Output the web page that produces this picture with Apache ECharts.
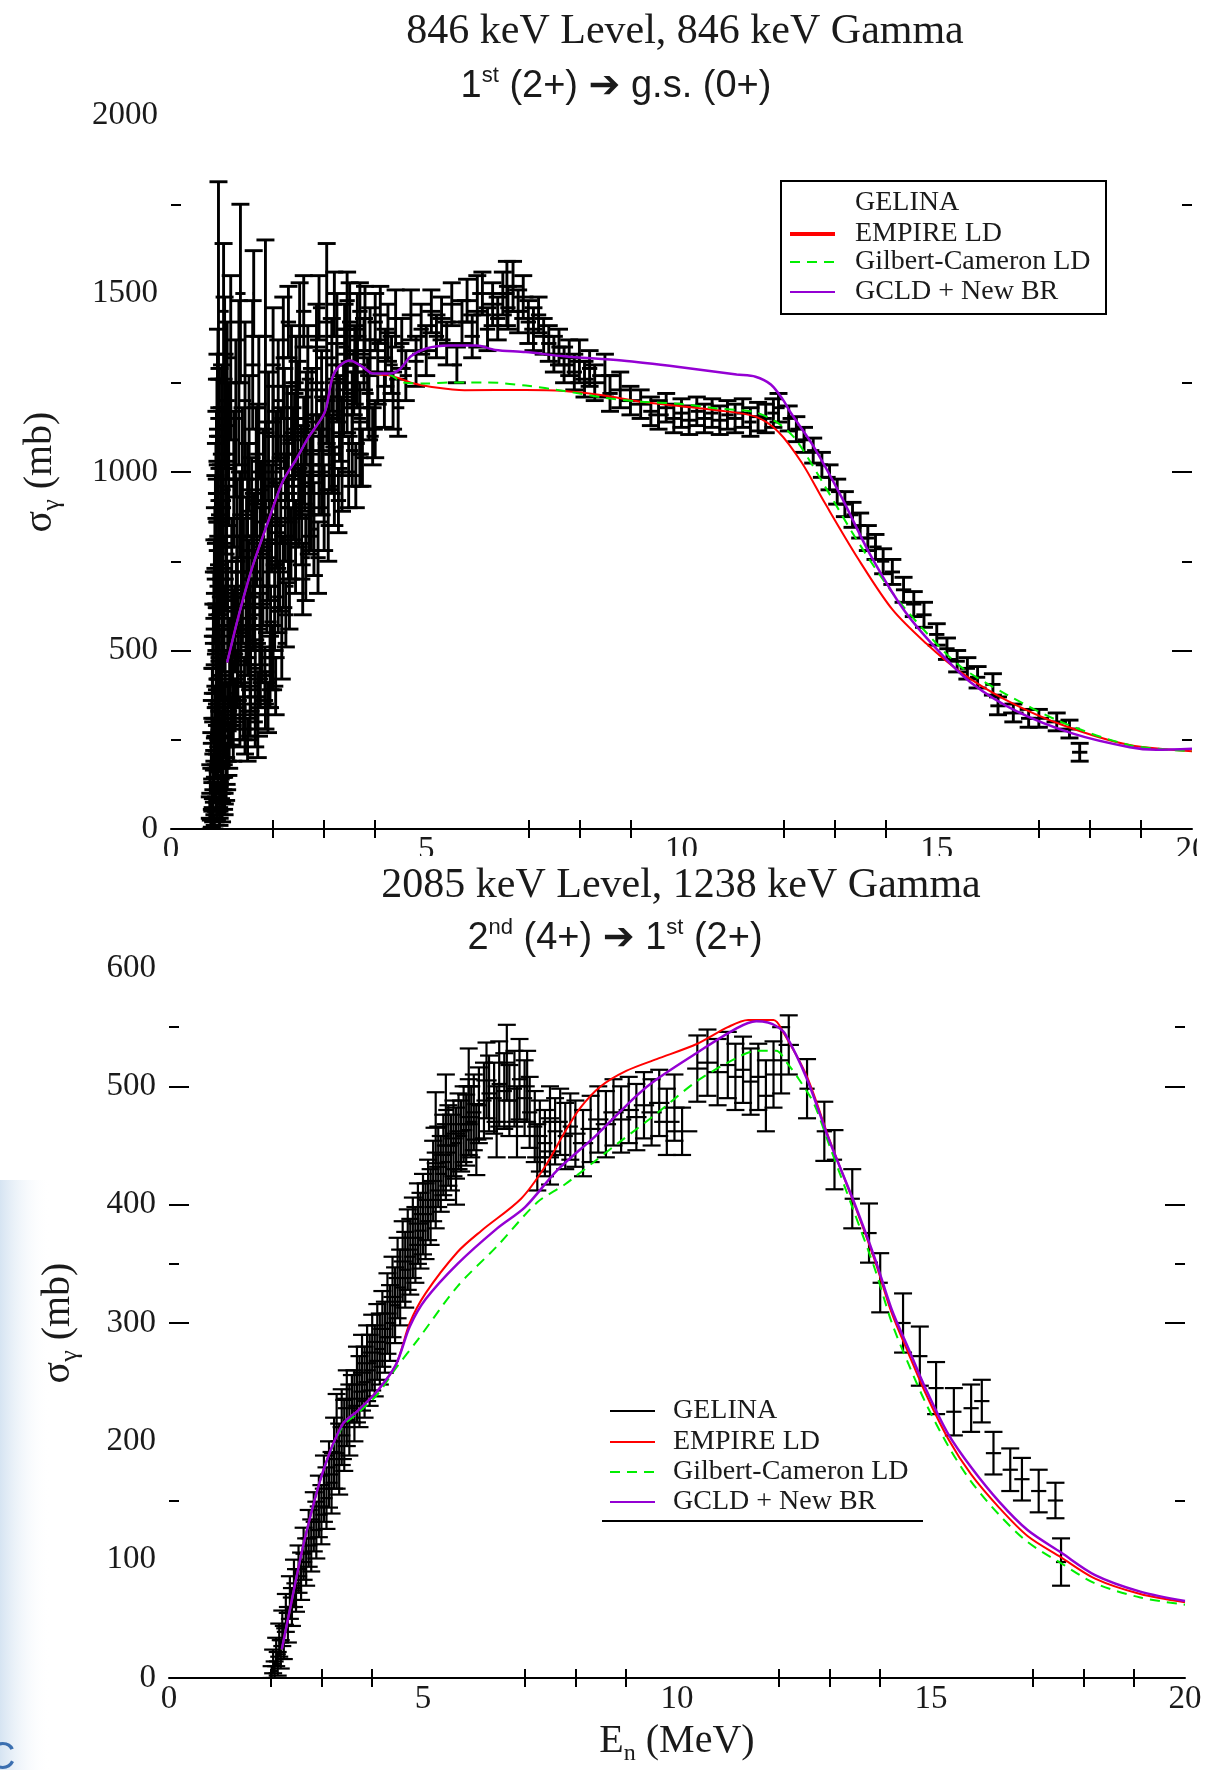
<!DOCTYPE html>
<html><head><meta charset="utf-8">
<script src="https://cdn.jsdelivr.net/npm/echarts@6/dist/echarts.min.js"></script>
<style>html,body{margin:0;padding:0;background:#fff}#c{width:1217px;height:1770px}</style>
</head><body><div id="c"></div><script>
// ---------- DATA ----------
const xMinorTicks = [2,3,4,7,8,9,12,13,14,17,18,19];
const topYMajorTicks = [500,1000];
const topYMinorTicks = [250,750,1250,1750];
const botYMajorTicks = [300,400,500];
const botYMinorTicks = [150,350,550];
const seriesNames = ['GELINA','EMPIRE LD','Gilbert-Cameron LD','GCLD + New BR'];

// GELINA points: [En (MeV), sigma (mb), dEn, dSigma]
const topGelina = [
[0.78,10,0.10,15],[0.80,30,0.08,25],[0.81,90,0.10,40],[0.82,55,0.06,30],[0.83,160,0.09,50],
[0.84,120,0.06,45],[0.85,250,0.10,60],[0.86,200,0.07,55],[0.87,330,0.10,70],[0.88,90,0.06,40],
[0.89,420,0.12,80],[0.90,280,0.07,70],[0.91,520,0.10,100],[0.92,160,0.06,60],[0.93,1000,0.02,813],
[0.94,620,0.10,120],[0.95,380,0.08,90],[0.96,740,0.12,140],[0.97,240,0.07,70],[0.98,860,0.10,160],
[0.99,460,0.08,100],[1.00,1100,0.12,200],[1.01,320,0.07,80],[1.02,680,0.09,140],[1.03,1450,0.10,190],
[1.04,560,0.08,120],[1.05,1250,0.12,240],[1.06,400,0.07,90],[1.07,950,0.10,180],[1.08,140,0.07,60],
[1.09,800,0.09,160],[1.10,1200,0.15,220],[1.11,620,0.08,130],[1.12,260,0.07,70],[1.13,1050,0.10,200],
[1.15,480,0.08,110],[1.17,1320,0.12,230],[1.19,720,0.09,150],[1.21,380,0.08,90],[1.23,980,0.10,190],
[1.25,560,0.08,120],[1.27,1150,0.12,220],[1.29,820,0.09,160],[1.31,460,0.08,100],[1.33,1250,0.12,230],
[1.36,1500,0.10,250],[1.38,680,0.08,140],[1.40,1000,0.10,180],[1.42,330,0.07,80],[1.45,1200,0.12,220],
[1.48,780,0.08,150],[1.50,540,0.08,110],[1.53,1080,0.10,190],[1.56,420,0.07,90],[1.58,880,0.09,160],
[1.60,1300,0.15,180],[1.62,1500,0.02,120],[1.64,650,0.08,130],[1.67,1000,0.09,180],[1.70,360,0.07,80],
[1.72,1180,0.10,200],[1.75,760,0.08,140],[1.78,520,0.08,110],[1.81,950,0.09,170],[1.85,1380,0.15,270],
[1.88,680,0.08,130],[1.91,1100,0.10,180],[1.94,440,0.08,100],[1.97,870,0.09,150],[2.00,1300,0.15,160],
[2.03,620,0.08,120],[2.06,1000,0.09,170],[2.10,1200,0.10,170],[2.13,740,0.08,130],[2.17,520,0.08,100],
[2.20,1320,0.15,170],[2.24,900,0.09,150],[2.28,1080,0.10,160],[2.32,680,0.08,120],[2.36,1250,0.12,160],
[2.40,960,0.09,150],[2.44,790,0.08,130],[2.48,1150,0.10,160],[2.52,1380,0.15,150],[2.56,880,0.09,140],
[2.60,1060,0.10,150],[2.64,760,0.08,120],[2.68,1260,0.12,150],[2.72,960,0.09,140],[2.76,1140,0.10,150],
[2.80,840,0.08,130],[2.85,1350,0.18,120],[2.90,1020,0.09,140],[2.95,1200,0.10,140],[3.00,900,0.09,120],
[3.05,1420,0.15,220],[3.10,1080,0.10,130],[3.15,1300,0.12,130],[3.20,960,0.09,110],[3.25,1380,0.15,120],
[3.30,1150,0.10,120],[3.35,1000,0.09,110],[3.40,1350,0.12,120],[3.45,1220,0.10,110],[3.50,1420,0.15,110],
[3.55,1060,0.12,100],[3.60,1300,0.12,110],[3.62,990,0.12,90],[3.65,1400,0.12,100],[3.70,1150,0.12,100],
[3.75,1040,0.12,80],[3.78,1330,0.12,100],[3.80,1430,0.15,90],[3.85,1220,0.12,100],[3.90,1370,0.12,90],
[3.95,1100,0.12,80],[4.00,1420,0.15,80],[4.05,1280,0.12,90],[4.10,1440,0.15,80],[4.18,1200,0.12,75],
[4.25,1390,0.15,80],[4.32,1300,0.12,80],[4.40,1430,0.15,80],[4.45,1180,0.12,80],[4.52,1360,0.15,70],
[4.60,1270,0.12,70],[4.70,1440,0.18,70],[4.80,1310,0.15,70],[4.90,1400,0.15,70],[5.00,1340,0.18,70],
[5.10,1450,0.18,60],[5.20,1380,0.15,60],[5.30,1430,0.18,60],[5.40,1360,0.15,60],[5.50,1470,0.20,60],
[5.60,1300,0.10,50],[5.70,1420,0.18,60],[5.80,1480,0.20,60],[5.90,1380,0.15,60],[6.00,1450,0.20,100],
[6.10,1500,0.20,60],[6.20,1400,0.15,60],[6.30,1470,0.20,60],[6.40,1430,0.15,60],[6.50,1500,0.20,60],
[6.58,1500,0.15,90],[6.60,1460,0.15,60],[6.70,1520,0.20,70],[6.80,1450,0.18,60],[6.90,1490,0.20,60],
[7.00,1420,0.15,60],[7.10,1400,0.18,60],[7.20,1440,0.15,50],[7.30,1380,0.18,50],[7.40,1360,0.15,50],
[7.50,1330,0.20,50],[7.60,1350,0.15,50],[7.70,1300,0.18,50],[7.80,1320,0.20,50],[7.90,1280,0.15,50],
[8.00,1310,0.20,60],[8.10,1260,0.18,50],[8.20,1290,0.15,50],[8.30,1250,0.20,50],[8.50,1270,0.25,60],
[8.60,1220,0.15,50],[8.80,1230,0.20,50],[9.00,1200,0.20,40],[9.20,1190,0.20,40],[9.40,1170,0.15,40],
[9.55,1160,0.20,40],[9.70,1180,0.15,40],[9.85,1150,0.15,40],[10.00,1165,0.15,40],[10.15,1145,0.15,40],
[10.30,1170,0.12,40],[10.45,1150,0.15,40],[10.60,1165,0.12,40],[10.75,1145,0.15,40],[10.90,1160,0.12,40],
[11.05,1150,0.15,40],[11.20,1165,0.12,40],[11.35,1140,0.12,40],[11.50,1155,0.15,40],[11.65,1150,0.12,40],
[11.80,1165,0.12,40],[11.90,1180,0.12,40],[12.10,1150,0.12,35],[12.25,1120,0.12,35],[12.40,1090,0.12,35],
[12.58,1060,0.12,35],[12.75,1020,0.12,35],[12.90,985,0.12,35],[13.05,945,0.12,35],[13.20,910,0.12,35],
[13.35,880,0.12,35],[13.50,850,0.12,35],[13.65,815,0.12,35],[13.80,790,0.12,35],[13.95,750,0.12,35],
[14.13,720,0.15,35],[14.35,670,0.15,35],[14.55,630,0.15,35],[14.75,600,0.15,35],[15.00,545,0.15,30],
[15.20,505,0.15,30],[15.40,470,0.15,30],[15.60,450,0.15,30],[15.80,425,0.15,30],[16.10,405,0.15,30],
[16.20,345,0.15,25],[16.50,325,0.20,25],[16.80,310,0.15,25],[17.00,310,0.20,25],[17.35,300,0.20,25],
[17.60,280,0.20,25],[17.80,215,0.15,25],
[0.76,60,0.12,30],[0.77,140,0.14,40],[0.79,220,0.12,50],[0.80,300,0.15,60],[0.81,380,0.12,70],
[0.82,460,0.14,80],[0.83,540,0.15,90],[0.84,620,0.12,100],[0.85,700,0.15,110],[0.86,780,0.12,120],
[0.87,860,0.14,130],[0.88,940,0.12,140],[0.89,1020,0.15,150],[0.90,1100,0.12,160],[0.91,1180,0.14,150],
[0.92,1260,0.15,140],[0.95,80,0.15,40],[0.98,130,0.15,45],[1.00,60,0.12,40],[1.02,200,0.15,55],
[1.04,100,0.12,45],[1.06,260,0.15,60],[1.09,180,0.12,55],[1.11,340,0.15,65],[1.14,230,0.12,60],
[1.16,410,0.15,70],[1.18,300,0.12,65],[1.20,490,0.15,80],[1.22,250,0.12,60],[1.24,580,0.15,90],
[1.26,350,0.12,70],[1.28,650,0.15,100],[1.30,420,0.12,80],[1.32,560,0.15,90],[1.35,300,0.12,70],
[1.37,480,0.15,80],[1.40,620,0.15,100],[1.44,400,0.12,80],[1.47,560,0.15,100],[1.52,700,0.15,110],
[1.55,480,0.12,90],[1.60,600,0.15,100],[1.65,450,0.12,80],[1.68,800,0.15,120],[1.74,560,0.15,100],
[1.80,680,0.15,110],[1.84,430,0.12,80],[1.90,760,0.15,120],[1.95,580,0.12,100],[2.00,480,0.15,90],
[2.05,860,0.15,120],[2.10,650,0.12,100],[2.15,920,0.15,120],[2.20,720,0.12,100],[2.25,600,0.15,90],
[2.30,980,0.15,120],[2.35,800,0.12,100],[2.42,1100,0.15,120],[2.50,900,0.12,110],[2.58,700,0.15,100],
[2.62,1000,0.12,110],[2.70,880,0.15,110],[2.78,1050,0.12,110],[2.88,760,0.15,100],[2.98,1100,0.12,110],
[3.08,850,0.15,100],[3.18,1150,0.12,100],[3.28,920,0.15,90],[3.38,1200,0.12,100],[3.48,1000,0.15,100],
[3.58,1250,0.12,90],[3.70,1050,0.15,90],[3.88,1180,0.12,90],[4.00,1120,0.15,80],[4.20,1320,0.15,80],
[4.35,1200,0.15,80],[2.30,1420,0.15,100],[2.60,1450,0.15,100],[2.90,1460,0.12,90],[3.20,1470,0.15,90],
[3.45,1480,0.15,80],[3.70,1450,0.15,80],
[0.85,20,0.20,20],[0.90,50,0.20,25],[0.95,30,0.18,20],[1.00,110,0.20,35],[1.05,70,0.18,30],[1.10,150,0.20,40],
[0.90,180,0.20,40],[0.95,230,0.20,45],[1.00,280,0.20,50],[1.05,350,0.20,55],[0.90,340,0.20,50],[0.95,420,0.20,60],
[1.00,500,0.20,70],[0.88,560,0.20,70],[0.93,600,0.20,80],[1.00,650,0.20,80],[1.08,700,0.15,90],[0.90,720,0.20,90],
[0.95,820,0.20,100],[1.02,900,0.15,110],[0.92,980,0.20,120],[1.00,1050,0.18,130],[0.95,1150,0.18,140],[1.05,1180,0.15,150],
[1.30,720,0.15,100],[1.35,880,0.15,120],[1.42,760,0.15,110],[1.50,950,0.15,130],[1.55,620,0.15,100],[1.62,820,0.15,120],
[1.70,1050,0.15,140],[1.77,900,0.15,130],[1.85,1000,0.15,140],[1.92,800,0.15,120],[2.00,1100,0.15,140],[2.08,850,0.15,120],
[2.15,1050,0.15,130],[2.22,1150,0.15,140],[2.30,820,0.15,120],[2.38,1050,0.15,130],[2.45,1250,0.15,130],[2.55,1000,0.15,130],
[2.65,1150,0.15,130],[2.75,900,0.15,120],[2.85,1250,0.15,130],[2.95,1000,0.15,120],[3.05,1200,0.15,120],[3.15,1050,0.15,110],
[3.25,1250,0.15,110],[3.35,1100,0.15,110],[3.45,1300,0.15,100],[3.55,1180,0.15,100],[3.65,1280,0.15,100],
[1.45,280,0.15,70],[1.55,330,0.15,70],[1.65,300,0.15,70],[1.75,420,0.15,80],[1.85,360,0.15,80],[1.95,480,0.15,90],
[2.05,400,0.15,80],[1.50,250,0.20,60],[1.70,260,0.20,60],[1.90,340,0.20,70]
];
const topRed = [
[1.10,466],[1.33,600],[1.59,732],[1.90,860],[2.19,974],[2.45,1035],[2.68,1094],[3.01,1167],[3.16,1264],
[3.28,1294],[3.50,1312],[3.76,1294],[3.95,1276],[4.29,1270],[4.48,1262],[4.70,1250],[5.08,1239],[5.75,1229],
[6.95,1230],[7.70,1227],[8.45,1215],[9.20,1197],[9.95,1185],[10.70,1173],[11.45,1155],[11.90,1112],
[12.36,1025],[12.80,915],[13.46,757],[14.13,615],[14.79,520],[15.45,441],[16.35,362],[17.45,292],
[18.78,235],[20.00,218]
];
const topGreen = [
[1.10,466],[1.33,600],[1.59,732],[1.90,860],[2.19,974],[2.45,1035],[2.68,1094],[3.01,1167],[3.16,1264],
[3.28,1294],[3.50,1312],[3.76,1294],[3.95,1276],[4.29,1272],[4.55,1251],[5.00,1248],[5.45,1251],[6.20,1251],
[6.95,1242],[7.70,1227],[8.45,1209],[9.20,1197],[9.95,1191],[10.70,1178],[11.45,1167],[11.90,1136],
[12.25,1089],[12.80,962],[13.46,804],[14.13,662],[14.79,551],[15.45,457],[16.35,378],[17.45,299],
[18.78,235],[20.00,218]
];
const topPurple = [
[1.10,466],[1.33,600],[1.59,732],[1.90,860],[2.19,974],[2.45,1035],[2.68,1094],[3.01,1167],[3.16,1264],
[3.28,1294],[3.50,1312],[3.76,1294],[3.95,1276],[4.29,1276],[4.48,1288],[4.70,1324],[5.00,1346],[5.45,1354],
[5.98,1354],[6.35,1342],[6.95,1336],[7.70,1324],[8.83,1312],[9.95,1294],[11.08,1273],[11.45,1267],
[11.75,1245],[12.00,1200],[12.13,1168],[12.58,1073],[13.13,931],[13.68,773],[14.35,615],[15.00,504],
[15.68,409],[16.56,330],[17.67,267],[18.78,229],[19.30,222],[20.00,225]
];

const botGelina = [
[2.02,4,0.06,6],[2.05,14,0.08,10],[2.08,6,0.06,8],[2.11,22,0.10,12],[2.14,12,0.08,10],[2.17,32,0.12,14],
[2.20,20,0.10,12],[2.23,42,0.12,15],[2.26,30,0.10,14],[2.30,55,0.14,16],[2.34,45,0.12,15],[2.38,68,0.14,18],
[2.42,60,0.12,16],[2.46,80,0.15,20],[2.50,74,0.12,18],[2.55,92,0.16,20],[2.60,86,0.12,20],[2.65,105,0.16,22],
[2.70,98,0.12,20],[2.75,118,0.16,24],[2.80,112,0.12,22],[2.85,132,0.16,25],[2.90,125,0.12,24],[2.95,145,0.18,26],
[3.00,138,0.12,25],[3.05,160,0.18,28],[3.10,152,0.12,26],[3.15,172,0.18,28],[3.20,165,0.12,26],[3.25,190,0.20,30],
[3.30,200,0.12,40],[3.35,185,0.25,30],[3.40,212,0.18,32],[3.45,205,0.12,30],[3.50,228,0.18,32],[3.55,218,0.12,30],
[3.60,236,0.30,20],[3.65,230,0.12,30],[3.70,248,0.18,32],[3.75,242,0.12,30],[3.80,258,0.18,32],[3.85,250,0.12,30],
[3.90,266,0.18,32],[3.95,260,0.12,30],[4.00,275,0.18,32],[4.05,268,0.12,30],[4.10,284,0.18,32],[4.15,278,0.12,30],
[4.20,295,0.18,32],[4.25,288,0.12,30],[4.30,308,0.18,34],[4.35,300,0.12,32],[4.40,322,0.18,34],[4.45,315,0.12,32],
[4.50,338,0.18,34],[4.55,330,0.12,32],[4.60,352,0.18,34],[4.65,345,0.12,32],[4.70,362,0.18,34],[4.75,356,0.12,32],
[4.80,372,0.18,34],[4.85,366,0.12,32],[4.90,384,0.18,34],[4.95,378,0.12,32],[5.00,392,0.18,34],[5.05,386,0.12,32],
[5.10,404,0.18,34],[5.15,398,0.12,32],[5.20,420,0.18,34],[5.25,412,0.12,32],[5.30,432,0.18,34],[5.35,426,0.12,32],
[5.40,442,0.18,34],[5.45,436,0.12,32],[5.50,450,0.18,34],[5.55,444,0.12,32],[5.60,456,0.18,32],[5.65,452,0.12,30],
[5.70,462,0.18,32],[5.75,458,0.12,30],[5.80,468,0.18,32],[5.85,463,0.12,30],[5.90,474,0.18,32],[5.95,470,0.12,30],
[6.00,478,0.15,32],[6.10,484,0.15,32],[6.20,488,0.15,32],[6.30,494,0.15,32],[6.40,490,0.15,30],[6.50,502,0.15,36],
[6.60,496,0.15,32],[6.70,488,0.15,30],[6.80,498,0.15,32],[6.90,506,0.15,34],[7.00,490,0.15,32],[7.10,478,0.15,30],
[7.20,466,0.15,30],[7.30,458,0.15,30],[7.40,452,0.15,28],[7.50,470,0.15,30],[7.60,462,0.15,28],[7.70,470,0.15,28],
[7.80,458,0.15,28],[7.90,466,0.15,28],[8.00,460,0.20,28],[8.15,452,0.20,28],[8.30,464,0.20,28],[8.45,472,0.20,28],
[8.60,468,0.20,28],[8.75,478,0.20,28],[8.90,472,0.20,28],[9.05,480,0.20,28],[9.20,474,0.20,28],[9.35,484,0.20,28],
[9.50,478,0.20,28],[9.65,486,0.20,28],[9.80,470,0.25,28],[9.95,482,0.20,28],[10.10,462,0.30,20],[10.40,515,0.20,28],
[10.60,520,0.20,28],[10.80,512,0.20,28],[11.00,518,0.15,28],[11.15,508,0.15,28],[11.30,514,0.15,28],[11.45,504,0.15,28],
[11.60,508,0.15,28],[11.75,492,0.15,30],[11.90,510,0.15,28],[12.05,522,0.15,28],[12.20,535,0.20,25],[12.56,498,0.15,25],
[12.90,462,0.15,25],[13.10,438,0.15,25],[13.45,405,0.15,25],[13.78,376,0.15,25],[14.00,334,0.15,25],[14.45,300,0.15,25],
[14.78,272,0.15,25],[15.10,245,0.15,22],[15.45,225,0.15,20],[15.79,228,0.15,20],[16.00,234,0.15,18],[16.23,190,0.15,18],
[16.56,176,0.15,18],[16.79,168,0.15,18],[17.12,158,0.15,18],[17.45,150,0.15,15],[17.56,98,0.10,20],
[5.25,465,0.20,30],[5.45,480,0.15,30],[5.65,430,0.20,30],[5.90,500,0.20,32],[6.05,455,0.20,30],[6.25,505,0.20,32],
[6.45,470,0.20,30],[6.65,520,0.15,32],[6.85,470,0.20,30],[7.05,500,0.15,30],[7.25,440,0.20,28],[7.50,445,0.20,28]
];
const botRed = [
[2.22,24],[2.39,60],[2.67,117],[3.02,173],[3.41,214],[3.72,226],[4.11,243],[4.47,265],[4.74,300],[5.05,325],
[5.68,360],[6.15,378],[6.93,405],[7.40,432],[7.80,462],[8.10,482],[8.50,500],[9.00,513],[9.60,523],[10.40,536],
[11.00,550],[11.40,556],[11.90,556],[12.10,545],[12.56,508],[13.00,455],[13.45,405],[13.90,352],[14.23,308],
[14.56,274],[14.90,240],[15.34,202],[15.79,172],[16.34,144],[16.90,120],[17.56,102],[18.23,84],[19.12,71],[20.00,64]
];
const botGreen = [
[2.22,24],[2.39,60],[2.67,117],[3.02,173],[3.41,212],[3.72,224],[4.11,240],[4.47,262],[4.90,286],[5.68,331],
[6.46,365],[7.25,402],[7.79,417],[8.42,438],[8.81,451],[9.60,477],[10.38,504],[11.17,524],[11.56,530],[11.95,530],
[12.18,519],[12.40,506],[12.70,485],[13.00,450],[13.45,398],[13.90,345],[14.23,300],[14.56,265],[14.90,232],
[15.34,196],[15.79,166],[16.34,138],[16.90,115],[17.56,97],[18.23,80],[19.12,68],[20.00,62]
];
const botPurple = [
[2.22,24],[2.39,60],[2.67,117],[3.02,173],[3.41,214],[3.72,226],[4.11,243],[4.47,265],[4.74,297],[5.05,320],
[5.68,350],[6.46,380],[7.01,398],[7.64,429],[8.42,459],[9.20,492],[9.60,506],[10.38,528],[11.17,549],[11.56,555],
[11.79,554],[11.95,551],[12.12,545],[12.56,506],[13.00,454],[13.45,406],[13.90,354],[14.23,311],[14.56,278],
[14.90,244],[15.34,206],[15.79,178],[16.34,149],[16.90,125],[17.56,106],[18.23,87],[19.12,73],[20.00,65]
];

// ---------- CHART ----------
const SERIF = '"Liberation Serif","Times New Roman",serif';
const SANS = '"Liberation Sans",Arial,"DejaVu Sans",sans-serif';
const TXT = '#1a1a1a';
const RED = '#ff0000', GREEN = '#00ee00', PURPLE = '#9400d3';

function errRender(params, api) {
  const E = api.value(0), s = api.value(1), dE = api.value(2), ds = api.value(3);
  const c = api.coord([E, s]);
  const l = api.coord([E - dE, s]);
  const r = api.coord([E + dE, s]);
  const t = api.coord([E, s + ds]);
  const b = api.coord([E, Math.max(0, s - ds)]);
  const cap = 9;
  const st = {stroke: '#000', lineWidth: params.seriesIndex === 0 ? 2.9 : 2.2};
  return {type: 'group', children: [
    {type: 'line', shape: {x1: l[0], y1: c[1], x2: r[0], y2: c[1]}, style: st},
    {type: 'line', shape: {x1: c[0], y1: t[1], x2: c[0], y2: b[1]}, style: st},
    {type: 'line', shape: {x1: c[0]-cap, y1: t[1], x2: c[0]+cap, y2: t[1]}, style: st},
    {type: 'line', shape: {x1: c[0]-cap, y1: b[1], x2: c[0]+cap, y2: b[1]}, style: st}
  ]};
}

function xAxes(gi, withName) {
  return [
    {gridIndex: gi, type: 'value', min: 0, max: 20, interval: 5, position: 'bottom',
     axisLine: {show: true, lineStyle: {color: '#000', width: 2}},
     axisTick: {show: true, inside: true, length: 9, customValues: xMinorTicks, lineStyle: {color: '#000', width: 2}},
     axisLabel: {fontFamily: SERIF, fontSize: 33, color: TXT, margin: 5},
     splitLine: {show: false},
     name: withName ? 'E{sub|n} (MeV)' : '', nameLocation: 'middle', nameGap: 38,
     nameTextStyle: {fontFamily: SERIF, fontSize: 40, color: TXT,
       rich: {sub: {fontFamily: SERIF, fontSize: 24, color: TXT, verticalAlign: 'bottom', lineHeight: 50}}}},
    {gridIndex: gi, type: 'value', min: 0, max: 20, interval: 5, position: 'top',
     axisLine: {show: false},
     axisTick: {show: true, inside: true, length: 9, customValues: xMinorTicks, lineStyle: {color: '#000', width: 2}},
     axisLabel: {show: false}, splitLine: {show: false}}
  ];
}
function yAxes(gi, max, interval, majors, minors, gap) {
  const base = {gridIndex: gi, type: 'value', min: 0, max: max, interval: interval, splitLine: {show: false},
                axisLine: {show: false}};
  return [
    Object.assign({}, base, {position: 'left',
      axisTick: {show: true, inside: true, length: 20, customValues: majors, lineStyle: {color: '#000', width: 2}},
      axisLabel: {fontFamily: SERIF, fontSize: 33, color: TXT, margin: 13, formatter: v => String(v)},
      name: 'σ{sub|γ} (mb)', nameLocation: 'middle', nameRotate: 90, nameGap: gap,
      nameTextStyle: {fontFamily: SERIF, fontSize: 40, color: TXT,
        rich: {sub: {fontFamily: SERIF, fontSize: 26, color: TXT, verticalAlign: 'bottom', lineHeight: 50}}}}),
    Object.assign({}, base, {position: 'left',
      axisTick: {show: true, inside: true, length: 10, customValues: minors, lineStyle: {color: '#000', width: 2}},
      axisLabel: {show: false}}),
    Object.assign({}, base, {position: 'right',
      axisTick: {show: true, inside: true, length: 20, customValues: majors, lineStyle: {color: '#000', width: 2}},
      axisLabel: {show: false}}),
    Object.assign({}, base, {position: 'right',
      axisTick: {show: true, inside: true, length: 10, customValues: minors, lineStyle: {color: '#000', width: 2}},
      axisLabel: {show: false}})
  ];
}

function seriesFor(xi, yi, gel, red, green, purple) {
  return [
    {name: seriesNames[0], type: 'custom', xAxisIndex: xi, yAxisIndex: yi, data: gel,
     renderItem: errRender, encode: {x: 0, y: 1}, clip: true, z: 2},
    {name: seriesNames[1], type: 'line', xAxisIndex: xi, yAxisIndex: yi, data: red, showSymbol: false, smooth: 0.3,
     lineStyle: {color: RED, width: 2}, itemStyle: {color: RED}, z: 3},
    {name: seriesNames[2], type: 'line', xAxisIndex: xi, yAxisIndex: yi, data: green, showSymbol: false, smooth: 0.3,
     lineStyle: {color: GREEN, width: 2, type: [10, 7]}, itemStyle: {color: GREEN}, z: 4},
    {name: seriesNames[3], type: 'line', xAxisIndex: xi, yAxisIndex: yi, data: purple, showSymbol: false, smooth: 0.3,
     lineStyle: {color: PURPLE, width: 2.5}, itemStyle: {color: PURPLE}, z: 5}
  ];
}

function legendGraphics(rows, lineX1, lineX2, textX, showGelinaLine, thickRed) {
  const cols = ['#000', RED, GREEN, PURPLE];
  const out = [];
  seriesNames.forEach((n, i) => {
    const y = rows[i];
    if (i > 0 || showGelinaLine) {
      out.push({type: 'line', z: 20, shape: {x1: lineX1, y1: y, x2: lineX2, y2: y},
        style: {stroke: cols[i], lineWidth: (i === 1 && thickRed) ? 4 : 2, lineDash: i === 2 ? [10, 7] : null}});
    }
    out.push({type: 'text', z: 20, x: textX, y: y,
      style: {text: n, fontFamily: SERIF, fontSize: 28, fill: TXT, verticalAlign: 'middle'}});
  });
  return out;
}

const titleStyle = {fontFamily: SERIF, fontSize: 42, fontWeight: 'normal', color: TXT};
const subStyle = {fontFamily: SANS, fontSize: 38, fontWeight: 'normal', color: TXT, lineHeight: 44,
  rich: {sup: {fontFamily: SANS, fontSize: 22, color: TXT, verticalAlign: 'top', lineHeight: 24}}};

const option = {
  animation: false,
  backgroundColor: '#ffffff',
  title: [
    {text: '846 keV Level, 846 keV Gamma', left: 680, top: 6, textAlign: 'center', textStyle: titleStyle},
    {text: '1{sup|st} (2+) ➔ g.s. (0+)', left: 611, top: 60, textAlign: 'center', textStyle: subStyle},
    {text: '2085 keV Level, 1238 keV Gamma', left: 676, top: 860, textAlign: 'center', textStyle: titleStyle},
    {text: '2{sup|nd} (4+) ➔ 1{sup|st} (2+)', left: 610, top: 912, textAlign: 'center', textStyle: subStyle}
  ],
  grid: [
    {left: 171, width: 1021, top: 115, height: 714},
    {left: 169, width: 1016, top: 968, height: 710}
  ],
  xAxis: [].concat(xAxes(0, false), xAxes(1, true)),
  yAxis: [].concat(yAxes(0, 2000, 500, topYMajorTicks, topYMinorTicks, 106),
                   yAxes(1, 600, 100, botYMajorTicks, botYMinorTicks, 86)),
  series: [].concat(seriesFor(0, 0, topGelina, topRed, topGreen, topPurple),
                    seriesFor(2, 4, botGelina, botRed, botGreen, botPurple)),
  graphic: [
    {type: 'rect', z: -10, shape: {x: 0, y: 1180, width: 50, height: 590},
     style: {fill: new echarts.graphic.LinearGradient(0, 0, 1, 0,
       [{offset: 0, color: '#d6e4f2'}, {offset: 1, color: 'rgba(255,255,255,0)'}])}},
    {type: 'text', z: 20, x: -12, y: 1740, style: {text: 'C', fontFamily: SANS, fontSize: 38, fill: '#3b6fb0', verticalAlign: 'top'}},
    // crop of the upper panel's lower labels (as in the reference)
    {type: 'rect', z: 5, shape: {x: 0, y: 856, width: 1217, height: 26}, style: {fill: '#fff'}},
    {type: 'rect', z: 5, shape: {x: 1197, y: 832, width: 20, height: 50}, style: {fill: '#fff'}},
    // upper legend box
    {type: 'rect', z: 19, shape: {x: 781, y: 181, width: 325, height: 133},
     style: {fill: '#fff', stroke: '#000', lineWidth: 2}}
  ].concat(
    legendGraphics([203, 234, 262, 292], 790, 835, 855, false, true),
    legendGraphics([1411, 1442, 1472, 1502], 610, 655, 673, true, false),
    [{type: 'line', z: 20, shape: {x1: 602, y1: 1521, x2: 923, y2: 1521}, style: {stroke: '#000', lineWidth: 2}}]
  )
};

const chart = echarts.init(document.getElementById('c'), null, {renderer: 'canvas'});
chart.setOption(option);
</script></body></html>
